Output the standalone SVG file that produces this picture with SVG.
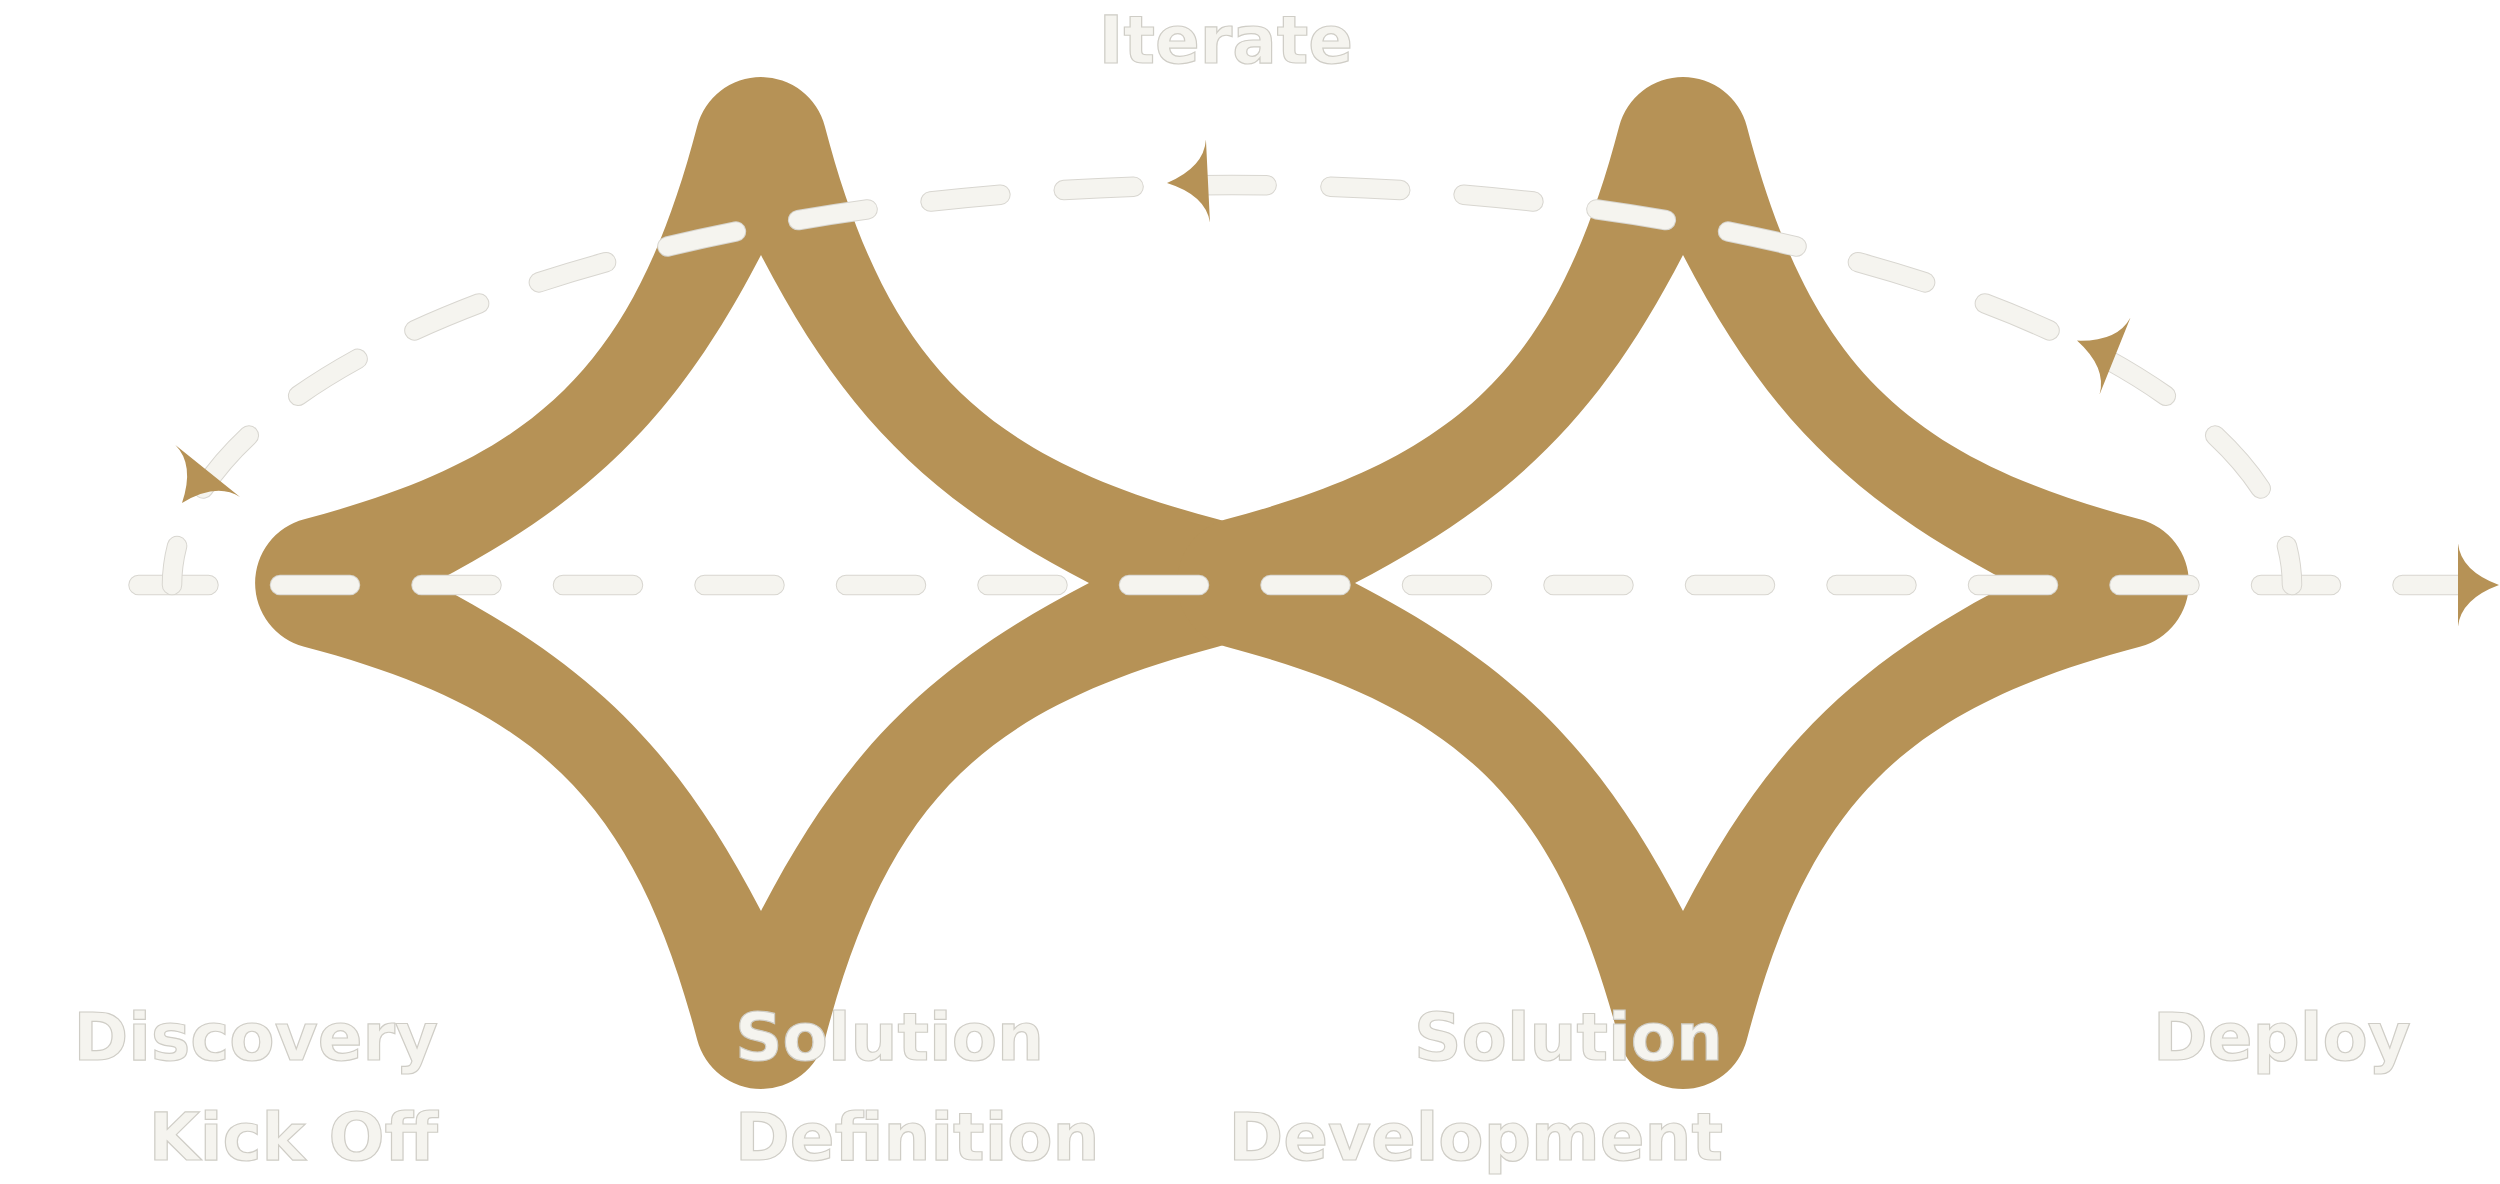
<svg xmlns="http://www.w3.org/2000/svg" width="2500" height="1184" viewBox="0 0 2500 1184">
<defs>
<style>
.star{fill:#B69256;fill-rule:evenodd}
.lbl{font-family:"DejaVu Sans","Liberation Sans",sans-serif;font-weight:bold;font-size:66px;fill:#F5F4EF;stroke:#cfcdc6;stroke-width:1.2}
.dash-o{fill:none;stroke:#d8d6d0;stroke-width:20.5;stroke-linecap:round}
.dash{fill:none;stroke:#F5F4EF;stroke-width:18.5;stroke-linecap:round}
.h{stroke-dasharray:70 71.5}
.loop{stroke-dasharray:70 63.5;stroke-dashoffset:30.5}
.ah{fill:#B69256}
</style>
<path id="starShape" d="M-63.8 -456.8 A66 66 0 0 1 63.8 -456.8 C125.9 -220.4 220.4 -125.9 456.8 -63.8 A66 66 0 0 1 456.8 63.8 C220.4 125.9 125.9 220.4 63.8 456.8 A66 66 0 0 1 -63.8 456.8 C-125.9 220.4 -220.4 125.9 -456.8 63.8 A66 66 0 0 1 -456.8 -63.8 C-220.4 -125.9 -125.9 -220.4 -63.8 -456.8 Z M0 -328 C83 -168 168 -83 328 0 C168 83 83 168 0 328 C-83 168 -168 83 -328 0 C-168 -83 -83 -168 0 -328 Z"/>
<path id="arrowHead" d="M0 0 Q-38 -14 -41 -41.5 L-41 41.5 Q-38 14 0 0 Z"/>
</defs>
<rect width="2500" height="1184" fill="#ffffff"/>
<g id="star-left"><use href="#starShape" class="star" transform="translate(761 583)"/></g>
<g id="star-right"><use href="#starShape" class="star" transform="translate(1683 583)"/></g>
<g id="connectors">
<path class="dash-o h" d="M138.5 585 H2466"/>
<path class="dash h" d="M138.5 585 H2466"/>
<path class="dash-o loop" pathLength="2412" d="M2292 585 A1060 400 0 0 0 172 585"/>
<path class="dash loop" pathLength="2412" d="M2292 585 A1060 400 0 0 0 172 585"/>
<use href="#arrowHead" class="ah" transform="translate(2499 585)"/>
<use href="#arrowHead" class="ah" transform="translate(1167 183) rotate(177.2)"/>
<use href="#arrowHead" class="ah" transform="translate(182 503) rotate(128.8)"/>
<use href="#arrowHead" class="ah" transform="translate(2077 340.6) rotate(201.9)"/>
</g>
<g id="label-iterate"><text class="lbl" x="1226" y="63" text-anchor="middle">Iterate</text></g>
<g id="label-discovery"><text class="lbl" x="438" y="1060" text-anchor="end">Discovery</text><text class="lbl" x="438" y="1160" text-anchor="end">Kick Off</text></g>
<g id="label-solution-definition"><text class="lbl" x="735" y="1060">Solution</text><text class="lbl" x="735" y="1160">Definition</text></g>
<g id="label-solution-development"><text class="lbl" x="1723" y="1060" text-anchor="end">Solution</text><text class="lbl" x="1723" y="1160" text-anchor="end">Development</text></g>
<g id="label-deploy"><text class="lbl" x="2153" y="1060">Deploy</text></g>
</svg>
